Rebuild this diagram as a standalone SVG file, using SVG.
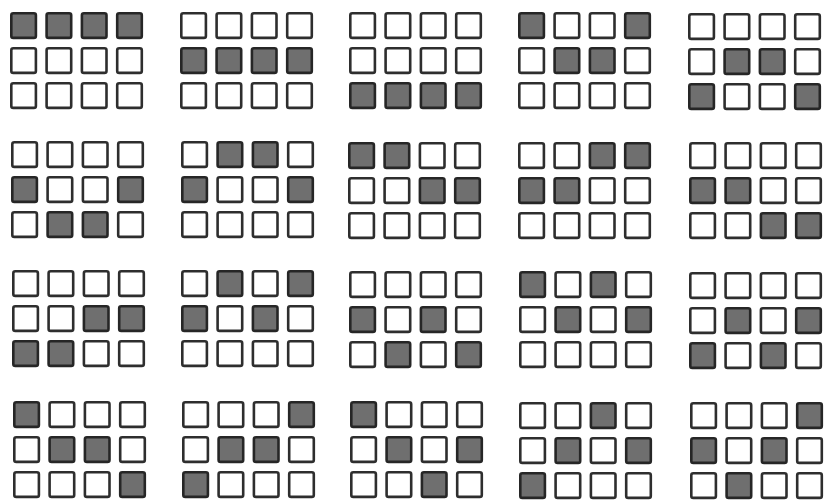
<svg xmlns="http://www.w3.org/2000/svg" xmlns:xlink="http://www.w3.org/1999/xlink" width="824" height="500" viewBox="0 0 824 500">
<style>
.e{fill:#ffffff;stroke:#2e2e2e;stroke-width:2.6}
.f{fill:#6f6f6f;stroke:#262626;stroke-width:2.6}
</style>
<defs>
<rect id="s" x="1.3" y="1.3" width="24.6" height="24.6" rx="2"/>
</defs>
<rect width="824" height="500" fill="#ffffff"/>
<g id="grids">
<!-- Row 1 -->
<g id="g11" transform="translate(10,12)">
<use href="#s" class="f" x="0" y="0"/><use href="#s" class="f" x="35.3" y="0"/><use href="#s" class="f" x="70.6" y="0"/><use href="#s" class="f" x="105.9" y="0"/>
<use href="#s" class="e" x="0" y="35"/><use href="#s" class="e" x="35.3" y="35"/><use href="#s" class="e" x="70.6" y="35"/><use href="#s" class="e" x="105.9" y="35"/>
<use href="#s" class="e" x="0" y="70"/><use href="#s" class="e" x="35.3" y="70"/><use href="#s" class="e" x="70.6" y="70"/><use href="#s" class="e" x="105.9" y="70"/>
</g>
<g id="g12" transform="translate(180,12)">
<use href="#s" class="e" x="0" y="0"/><use href="#s" class="e" x="35.3" y="0"/><use href="#s" class="e" x="70.6" y="0"/><use href="#s" class="e" x="105.9" y="0"/>
<use href="#s" class="f" x="0" y="35"/><use href="#s" class="f" x="35.3" y="35"/><use href="#s" class="f" x="70.6" y="35"/><use href="#s" class="f" x="105.9" y="35"/>
<use href="#s" class="e" x="0" y="70"/><use href="#s" class="e" x="35.3" y="70"/><use href="#s" class="e" x="70.6" y="70"/><use href="#s" class="e" x="105.9" y="70"/>
</g>
<g id="g13" transform="translate(349,12)">
<use href="#s" class="e" x="0" y="0"/><use href="#s" class="e" x="35.3" y="0"/><use href="#s" class="e" x="70.6" y="0"/><use href="#s" class="e" x="105.9" y="0"/>
<use href="#s" class="e" x="0" y="35"/><use href="#s" class="e" x="35.3" y="35"/><use href="#s" class="e" x="70.6" y="35"/><use href="#s" class="e" x="105.9" y="35"/>
<use href="#s" class="f" x="0" y="70"/><use href="#s" class="f" x="35.3" y="70"/><use href="#s" class="f" x="70.6" y="70"/><use href="#s" class="f" x="105.9" y="70"/>
</g>
<g id="g14" transform="translate(518,12)">
<use href="#s" class="f" x="0" y="0"/><use href="#s" class="e" x="35.3" y="0"/><use href="#s" class="e" x="70.6" y="0"/><use href="#s" class="f" x="105.9" y="0"/>
<use href="#s" class="e" x="0" y="35"/><use href="#s" class="f" x="35.3" y="35"/><use href="#s" class="f" x="70.6" y="35"/><use href="#s" class="e" x="105.9" y="35"/>
<use href="#s" class="e" x="0" y="70"/><use href="#s" class="e" x="35.3" y="70"/><use href="#s" class="e" x="70.6" y="70"/><use href="#s" class="e" x="105.9" y="70"/>
</g>
<g id="g15" transform="translate(688,13)">
<use href="#s" class="e" x="0" y="0"/><use href="#s" class="e" x="35.3" y="0"/><use href="#s" class="e" x="70.6" y="0"/><use href="#s" class="e" x="105.9" y="0"/>
<use href="#s" class="e" x="0" y="35"/><use href="#s" class="f" x="35.3" y="35"/><use href="#s" class="f" x="70.6" y="35"/><use href="#s" class="e" x="105.9" y="35"/>
<use href="#s" class="f" x="0" y="70"/><use href="#s" class="e" x="35.3" y="70"/><use href="#s" class="e" x="70.6" y="70"/><use href="#s" class="f" x="105.9" y="70"/>
</g>
<!-- Row 2 -->
<g id="g21" transform="translate(11,141)">
<use href="#s" class="e" x="0" y="0"/><use href="#s" class="e" x="35.3" y="0"/><use href="#s" class="e" x="70.6" y="0"/><use href="#s" class="e" x="105.9" y="0"/>
<use href="#s" class="f" x="0" y="35"/><use href="#s" class="e" x="35.3" y="35"/><use href="#s" class="e" x="70.6" y="35"/><use href="#s" class="f" x="105.9" y="35"/>
<use href="#s" class="e" x="0" y="70"/><use href="#s" class="f" x="35.3" y="70"/><use href="#s" class="f" x="70.6" y="70"/><use href="#s" class="e" x="105.9" y="70"/>
</g>
<g id="g22" transform="translate(181,141)">
<use href="#s" class="e" x="0" y="0"/><use href="#s" class="f" x="35.3" y="0"/><use href="#s" class="f" x="70.6" y="0"/><use href="#s" class="e" x="105.9" y="0"/>
<use href="#s" class="f" x="0" y="35"/><use href="#s" class="e" x="35.3" y="35"/><use href="#s" class="e" x="70.6" y="35"/><use href="#s" class="f" x="105.9" y="35"/>
<use href="#s" class="e" x="0" y="70"/><use href="#s" class="e" x="35.3" y="70"/><use href="#s" class="e" x="70.6" y="70"/><use href="#s" class="e" x="105.9" y="70"/>
</g>
<g id="g23" transform="translate(348,142)">
<use href="#s" class="f" x="0" y="0"/><use href="#s" class="f" x="35.3" y="0"/><use href="#s" class="e" x="70.6" y="0"/><use href="#s" class="e" x="105.9" y="0"/>
<use href="#s" class="e" x="0" y="35"/><use href="#s" class="e" x="35.3" y="35"/><use href="#s" class="f" x="70.6" y="35"/><use href="#s" class="f" x="105.9" y="35"/>
<use href="#s" class="e" x="0" y="70"/><use href="#s" class="e" x="35.3" y="70"/><use href="#s" class="e" x="70.6" y="70"/><use href="#s" class="e" x="105.9" y="70"/>
</g>
<g id="g24" transform="translate(518,142)">
<use href="#s" class="e" x="0" y="0"/><use href="#s" class="e" x="35.3" y="0"/><use href="#s" class="f" x="70.6" y="0"/><use href="#s" class="f" x="105.9" y="0"/>
<use href="#s" class="f" x="0" y="35"/><use href="#s" class="f" x="35.3" y="35"/><use href="#s" class="e" x="70.6" y="35"/><use href="#s" class="e" x="105.9" y="35"/>
<use href="#s" class="e" x="0" y="70"/><use href="#s" class="e" x="35.3" y="70"/><use href="#s" class="e" x="70.6" y="70"/><use href="#s" class="e" x="105.9" y="70"/>
</g>
<g id="g25" transform="translate(689,142)">
<use href="#s" class="e" x="0" y="0"/><use href="#s" class="e" x="35.3" y="0"/><use href="#s" class="e" x="70.6" y="0"/><use href="#s" class="e" x="105.9" y="0"/>
<use href="#s" class="f" x="0" y="35"/><use href="#s" class="f" x="35.3" y="35"/><use href="#s" class="e" x="70.6" y="35"/><use href="#s" class="e" x="105.9" y="35"/>
<use href="#s" class="e" x="0" y="70"/><use href="#s" class="e" x="35.3" y="70"/><use href="#s" class="f" x="70.6" y="70"/><use href="#s" class="f" x="105.9" y="70"/>
</g>
<!-- Row 3 -->
<g id="g31" transform="translate(12,270)">
<use href="#s" class="e" x="0" y="0"/><use href="#s" class="e" x="35.3" y="0"/><use href="#s" class="e" x="70.6" y="0"/><use href="#s" class="e" x="105.9" y="0"/>
<use href="#s" class="e" x="0" y="35"/><use href="#s" class="e" x="35.3" y="35"/><use href="#s" class="f" x="70.6" y="35"/><use href="#s" class="f" x="105.9" y="35"/>
<use href="#s" class="f" x="0" y="70"/><use href="#s" class="f" x="35.3" y="70"/><use href="#s" class="e" x="70.6" y="70"/><use href="#s" class="e" x="105.9" y="70"/>
</g>
<g id="g32" transform="translate(181,270)">
<use href="#s" class="e" x="0" y="0"/><use href="#s" class="f" x="35.3" y="0"/><use href="#s" class="e" x="70.6" y="0"/><use href="#s" class="f" x="105.9" y="0"/>
<use href="#s" class="f" x="0" y="35"/><use href="#s" class="e" x="35.3" y="35"/><use href="#s" class="f" x="70.6" y="35"/><use href="#s" class="e" x="105.9" y="35"/>
<use href="#s" class="e" x="0" y="70"/><use href="#s" class="e" x="35.3" y="70"/><use href="#s" class="e" x="70.6" y="70"/><use href="#s" class="e" x="105.9" y="70"/>
</g>
<g id="g33" transform="translate(349,271)">
<use href="#s" class="e" x="0" y="0"/><use href="#s" class="e" x="35.3" y="0"/><use href="#s" class="e" x="70.6" y="0"/><use href="#s" class="e" x="105.9" y="0"/>
<use href="#s" class="f" x="0" y="35"/><use href="#s" class="e" x="35.3" y="35"/><use href="#s" class="f" x="70.6" y="35"/><use href="#s" class="e" x="105.9" y="35"/>
<use href="#s" class="e" x="0" y="70"/><use href="#s" class="f" x="35.3" y="70"/><use href="#s" class="e" x="70.6" y="70"/><use href="#s" class="f" x="105.9" y="70"/>
</g>
<g id="g34" transform="translate(519,271)">
<use href="#s" class="f" x="0" y="0"/><use href="#s" class="e" x="35.3" y="0"/><use href="#s" class="f" x="70.6" y="0"/><use href="#s" class="e" x="105.9" y="0"/>
<use href="#s" class="e" x="0" y="35"/><use href="#s" class="f" x="35.3" y="35"/><use href="#s" class="e" x="70.6" y="35"/><use href="#s" class="f" x="105.9" y="35"/>
<use href="#s" class="e" x="0" y="70"/><use href="#s" class="e" x="35.3" y="70"/><use href="#s" class="e" x="70.6" y="70"/><use href="#s" class="e" x="105.9" y="70"/>
</g>
<g id="g35" transform="translate(689,272)">
<use href="#s" class="e" x="0" y="0"/><use href="#s" class="e" x="35.3" y="0"/><use href="#s" class="e" x="70.6" y="0"/><use href="#s" class="e" x="105.9" y="0"/>
<use href="#s" class="e" x="0" y="35"/><use href="#s" class="f" x="35.3" y="35"/><use href="#s" class="e" x="70.6" y="35"/><use href="#s" class="f" x="105.9" y="35"/>
<use href="#s" class="f" x="0" y="70"/><use href="#s" class="e" x="35.3" y="70"/><use href="#s" class="f" x="70.6" y="70"/><use href="#s" class="e" x="105.9" y="70"/>
</g>
<!-- Row 4 -->
<g id="g41" transform="translate(13,401)">
<use href="#s" class="f" x="0" y="0"/><use href="#s" class="e" x="35.3" y="0"/><use href="#s" class="e" x="70.6" y="0"/><use href="#s" class="e" x="105.9" y="0"/>
<use href="#s" class="e" x="0" y="35"/><use href="#s" class="f" x="35.3" y="35"/><use href="#s" class="f" x="70.6" y="35"/><use href="#s" class="e" x="105.9" y="35"/>
<use href="#s" class="e" x="0" y="70"/><use href="#s" class="e" x="35.3" y="70"/><use href="#s" class="e" x="70.6" y="70"/><use href="#s" class="f" x="105.9" y="70"/>
</g>
<g id="g42" transform="translate(182,401)">
<use href="#s" class="e" x="0" y="0"/><use href="#s" class="e" x="35.3" y="0"/><use href="#s" class="e" x="70.6" y="0"/><use href="#s" class="f" x="105.9" y="0"/>
<use href="#s" class="e" x="0" y="35"/><use href="#s" class="f" x="35.3" y="35"/><use href="#s" class="f" x="70.6" y="35"/><use href="#s" class="e" x="105.9" y="35"/>
<use href="#s" class="f" x="0" y="70"/><use href="#s" class="e" x="35.3" y="70"/><use href="#s" class="e" x="70.6" y="70"/><use href="#s" class="e" x="105.9" y="70"/>
</g>
<g id="g43" transform="translate(350,401)">
<use href="#s" class="f" x="0" y="0"/><use href="#s" class="e" x="35.3" y="0"/><use href="#s" class="e" x="70.6" y="0"/><use href="#s" class="e" x="105.9" y="0"/>
<use href="#s" class="e" x="0" y="35"/><use href="#s" class="f" x="35.3" y="35"/><use href="#s" class="e" x="70.6" y="35"/><use href="#s" class="f" x="105.9" y="35"/>
<use href="#s" class="e" x="0" y="70"/><use href="#s" class="e" x="35.3" y="70"/><use href="#s" class="f" x="70.6" y="70"/><use href="#s" class="e" x="105.9" y="70"/>
</g>
<g id="g44" transform="translate(519,402)">
<use href="#s" class="e" x="0" y="0"/><use href="#s" class="e" x="35.3" y="0"/><use href="#s" class="f" x="70.6" y="0"/><use href="#s" class="e" x="105.9" y="0"/>
<use href="#s" class="e" x="0" y="35"/><use href="#s" class="f" x="35.3" y="35"/><use href="#s" class="e" x="70.6" y="35"/><use href="#s" class="f" x="105.9" y="35"/>
<use href="#s" class="f" x="0" y="70"/><use href="#s" class="e" x="35.3" y="70"/><use href="#s" class="e" x="70.6" y="70"/><use href="#s" class="e" x="105.9" y="70"/>
</g>
<g id="g45" transform="translate(690,402)">
<use href="#s" class="e" x="0" y="0"/><use href="#s" class="e" x="35.3" y="0"/><use href="#s" class="e" x="70.6" y="0"/><use href="#s" class="f" x="105.9" y="0"/>
<use href="#s" class="f" x="0" y="35"/><use href="#s" class="e" x="35.3" y="35"/><use href="#s" class="f" x="70.6" y="35"/><use href="#s" class="e" x="105.9" y="35"/>
<use href="#s" class="e" x="0" y="70"/><use href="#s" class="f" x="35.3" y="70"/><use href="#s" class="e" x="70.6" y="70"/><use href="#s" class="e" x="105.9" y="70"/>
</g>
</g>
<g id="connectors"/>
</svg>
